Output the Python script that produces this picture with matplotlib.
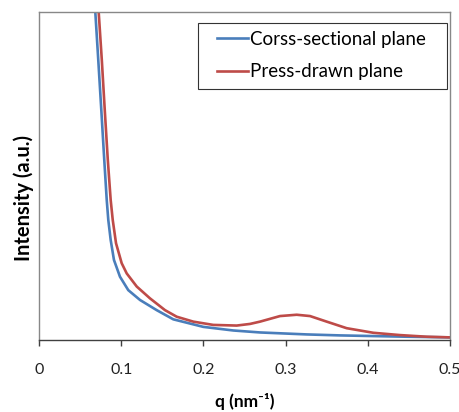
import matplotlib
matplotlib.use("Agg")
import matplotlib.pyplot as plt
from matplotlib.patches import Rectangle

plt.rcParams['font.family'] = ['Lato', 'DejaVu Sans']

# Cross-sectional plane (blue)
q_cross = [0.0676, 0.0685, 0.0721, 0.0758, 0.0794, 0.0824, 0.0843, 0.0872,
           0.0912, 0.0985, 0.1086, 0.1229, 0.1432, 0.1634, 0.1999, 0.2364,
           0.2689, 0.3257, 0.3662, 0.4067, 0.4473, 0.5]
i_cross = [105.2, 100.0, 85.4, 70.1, 54.9, 42.7, 36.6, 30.5,
           24.4, 19.3, 15.2, 12.2, 9.1, 6.3, 4.0, 2.9,
           2.3, 1.7, 1.4, 1.2, 1.0, 0.8]

# Press-drawn plane (red)
q_press = [0.0718, 0.0726, 0.0764, 0.0800, 0.0837, 0.0872, 0.0897, 0.0937,
           0.1006, 0.1067, 0.1189, 0.1350, 0.1533, 0.1675, 0.1877, 0.2120,
           0.2405, 0.2567, 0.2689, 0.2932, 0.3135, 0.3297, 0.3500, 0.3743,
           0.4067, 0.4392, 0.4717, 0.5]
i_press = [105.2, 100.0, 85.4, 70.1, 54.9, 42.7, 36.6, 29.5,
           23.4, 20.3, 16.3, 12.7, 9.1, 7.1, 5.6, 4.6,
           4.4, 4.9, 5.6, 7.3, 7.7, 7.3, 5.6, 3.6,
           2.2, 1.5, 1.0, 0.8]

x_ticks = [0, 0.1, 0.2, 0.3, 0.4, 0.5]
x_tick_labels = ['0', '0.1', '0.2', '0.3', '0.4', '0.5']

fig = plt.figure(figsize=(4.6, 4.12), dpi=100)
ax = fig.add_axes([39 / 460, 72 / 412, 411 / 460, 328 / 412])

ax.plot(q_cross, i_cross, color='#4A7EBB', linewidth=1.9,
        solid_joinstyle='round', label='Corss-sectional plane')
ax.plot(q_press, i_press, color='#BE4B48', linewidth=1.9,
        solid_joinstyle='round', label='Press-drawn plane')

ax.set_xlim(0, 0.5)
ax.set_ylim(0, 100)
ax.set_xticks(x_ticks)
ax.set_xticklabels(x_tick_labels)
ax.set_yticks([])
ax.tick_params(axis='x', direction='out', length=4.5, width=1, color='#404040',
               labelsize=11.5, pad=12, labelcolor='#222222')

for side in ['left', 'top', 'right']:
    ax.spines[side].set_color('#888888')
    ax.spines[side].set_linewidth(1)
ax.spines['bottom'].set_color('#404040')
ax.spines['bottom'].set_linewidth(1)

# axis titles placed like the original (y title sits a bit low)
fig.text(245 / 460, 1 - 402 / 412, 'q (nm⁻¹)', fontsize=12.5, fontweight='bold',
         ha='center', va='center', family=['Lato', 'DejaVu Sans'])
fig.text(24 / 460, 1 - 198 / 412, 'Intensity (a.u.)', fontsize=14.5,
         fontweight='bold', rotation=90, ha='center', va='center')

# legend box
ax.add_patch(Rectangle((0.3869, 0.7652), 0.992 - 0.3869, 0.9674 - 0.7652,
                       transform=ax.transAxes, fill=True, facecolor='white',
                       edgecolor='#333333', linewidth=0.8, zorder=4))
leg = ax.legend(loc='center left', bbox_to_anchor=(0.410, 0.8674), fontsize=13.5,
                frameon=False, borderpad=0, handlelength=1.65,
                handletextpad=0.12, labelspacing=0.85)
leg.set_zorder(5)

fig.savefig('out.png', dpi=100)
